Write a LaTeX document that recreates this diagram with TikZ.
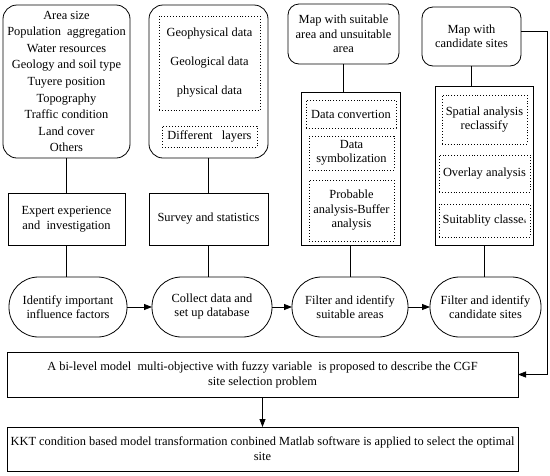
\documentclass[tikz,border=0pt]{standalone}
\usepackage{fontspec}
\setmainfont{Liberation Serif}
\usetikzlibrary{arrows.meta}
\begin{document}
\begin{tikzpicture}[x=1pt,y=-1pt,
  every node/.style={inner sep=0pt, outer sep=0pt, align=center, font=\fontsize{12.4}{14.5}\selectfont},
  rbox/.style={draw, line width=0.8pt, rounded corners=14pt},
  mbox/.style={draw, line width=0.8pt, rounded corners=11pt},
  sbox/.style={draw, line width=0.8pt},
  dbox/.style={draw, dotted, line width=0.9pt},
  oval/.style={draw, line width=0.8pt, rounded corners=29.5pt},
  conn/.style={line width=0.8pt},
  arr/.style={line width=0.8pt, -{Triangle[length=8pt,width=6pt]}},
]
\useasboundingbox (0,0) rectangle (550,475);
% top row
\node[rbox, minimum width=127pt, minimum height=153pt, font=\fontsize{12.4}{16.6}\selectfont] (b1) at (66.5,81.5)
  {Area size\\Population~ aggregation\\Water resources\\Geology and soil type\\Tuyere position\\Topography\\Traffic condition\\Land cover\\Others};
\node[rbox, minimum width=119pt, minimum height=153pt] (b2) at (208.5,81.5) {};
\node[dbox, minimum width=101pt, minimum height=94pt, font=\fontsize{12.4}{29}\selectfont] (b2a) at (209.5,63)
  {Geophysical data\\Geological data\\physical data};
\node[dbox, minimum width=95pt, minimum height=21pt] (b2b) at (209.5,136.5) {Different~~ layers};
\node[mbox, minimum width=111pt, minimum height=60pt] (m1) at (343.5,34) {Map with suitable\\area and unsuitable\\area};
\node[mbox, minimum width=99pt, minimum height=59pt] (m2) at (471.5,36.5) {Map with\\candidate sites};
% second row
\node[sbox, minimum width=117pt, minimum height=52pt] (ex) at (66.5,219) {Expert experience\\and~ investigation};
\node[sbox, minimum width=119pt, minimum height=52pt] (sv) at (208.5,219) {Survey and statistics};
\node[sbox, minimum width=99pt, minimum height=153pt] (b3) at (350.5,168.5) {};
\node[dbox, minimum width=90pt, minimum height=28pt] (d1) at (351,114) {Data convertion};
\node[dbox, minimum width=85pt, minimum height=34pt, font=\fontsize{12.4}{14}\selectfont] (d2) at (351.5,153) {Data\\symbolization};
\node[dbox, minimum width=85pt, minimum height=61pt] (d3) at (351.5,210.5) {Probable\\analysis-Buffer\\analysis};
\node[sbox, minimum width=98pt, minimum height=159pt] (b4) at (484,165.5) {};
\node[dbox, minimum width=85pt, minimum height=49pt] (e1) at (484.5,119.5) {Spatial analysis\\reclassify};
\node[dbox, minimum width=91pt, minimum height=37pt] (e2) at (484.5,173.5) {Overlay analysis};
\node[dbox, minimum width=91pt, minimum height=33pt] (e3) at (484.5,220.5) {Suitablity classe{\scriptsize s}};
% ovals
\node[oval, minimum width=118pt, minimum height=60pt, font=\fontsize{12.4}{14}\selectfont] (o1) at (68,307) {Identify important\\influence factors};
\node[oval, minimum width=120pt, minimum height=60pt, font=\fontsize{12.4}{14}\selectfont] (o2) at (212,307) {Collect data and\\set up database};
\node[oval, minimum width=116pt, minimum height=60pt, font=\fontsize{12.4}{14}\selectfont] (o3) at (350,307) {Filter and identify\\suitable areas};
\node[oval, minimum width=111pt, minimum height=60pt, font=\fontsize{12.4}{14}\selectfont] (o4) at (485.5,307) {Filter and identify\\candidate sites};
% bottom
\node[sbox, minimum width=511pt, minimum height=45pt, font=\fontsize{12.4}{15}\selectfont] (bl) at (262.5,374.5)
  {A bi-level model~ multi-objective with fuzzy variable~ is proposed to describe the CGF\\site selection problem};
\node[sbox, minimum width=511pt, minimum height=44pt, font=\fontsize{12.4}{15}\selectfont] (kkt) at (262.5,449)
  {KKT condition based model transformation conbined Matlab software is applied to select the optimal\\site};
% connectors
\draw[conn] (b1.south) -- (ex.north);
\draw[conn] (b2.south) -- (sv.north);
\draw[conn] (m1.south) -- (m1.south |- b3.north);
\draw[conn] (m2.south) -- (m2.south |- b4.north);
\draw[conn] (ex.south) -- (ex.south |- o1.north);
\draw[conn] (sv.south) -- (sv.south |- o2.north);
\draw[conn] (b3.south) -- (b3.south |- o3.north);
\draw[conn] (b4.south) -- (b4.south |- o4.north);
\draw[arr] (o1.east) -- (o2.west);
\draw[arr] (o2.east) -- (o3.west);
\draw[arr] (o3.east) -- (o4.west);
\coordinate (rc) at (547,31);
\draw[arr] ([yshift=5.5pt]m2.east) -- (rc) |- (bl.east);
\draw[arr] (bl.south) -- (kkt.north);
\end{tikzpicture}
\end{document}
